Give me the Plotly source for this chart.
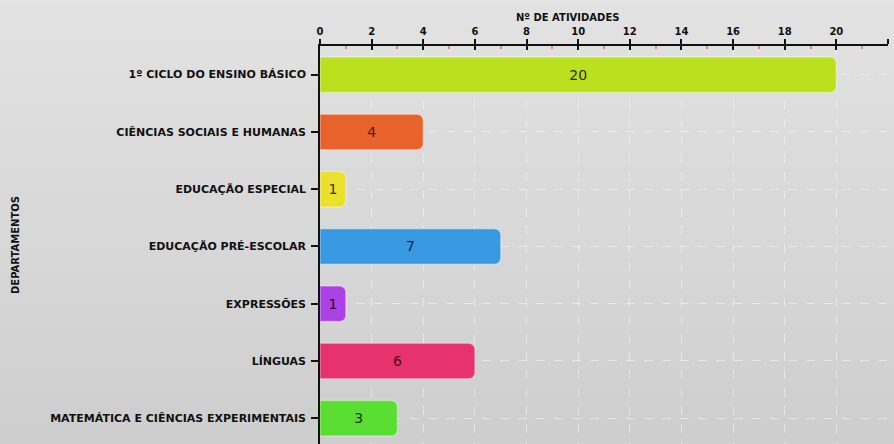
import plotly.graph_objects as go

categories = [
    "1º CICLO DO ENSINO BÁSICO",
    "CIÊNCIAS SOCIAIS E HUMANAS",
    "EDUCAÇÃO ESPECIAL",
    "EDUCAÇÃO PRÉ-ESCOLAR",
    "EXPRESSÕES",
    "LÍNGUAS",
    "MATEMÁTICA E CIÊNCIAS EXPERIMENTAIS",
]
values = [20, 4, 1, 7, 1, 6, 3]
bar_colors = ["#bbe01e", "#e8632c", "#ebe02c", "#3898e2", "#ac42e6", "#e6336f", "#5ade32"]
text_colors = ["#2a3008", "#5a1a0c", "#3a3408", "#0e2a48", "#2a0a40", "#4a0a1c", "#103a08"]
x_ticks = list(range(0, 23, 2))
x_title = "Nº DE ATIVIDADES"
y_title = "DEPARTAMENTOS"

FONT = "DejaVu Sans"

fig = go.Figure()
fig.add_trace(go.Bar(
    y=categories, x=values, orientation="h",
    marker=dict(color=bar_colors, line=dict(color="rgba(255,255,255,0.35)", width=1.5),
                cornerradius=6),
    width=0.62,
    text=[str(v) for v in values],
    textposition="inside", insidetextanchor="middle",
    textfont=dict(family=FONT, size=14, color=text_colors),
    constraintext="none",
    hoverinfo="skip",
))

# background gradient (decoration)
shapes = []
n = 24
top_c = (228, 228, 228)
bot_c = (206, 206, 206)
y0p, y1p = -0.01, 1.2
for i in range(n):
    t = i / (n - 1)
    c = tuple(int(round(top_c[k] + (bot_c[k] - top_c[k]) * t)) for k in range(3))
    ya = y1p - (y1p - y0p) * i / n
    yb = y1p - (y1p - y0p) * (i + 1) / n
    shapes.append(dict(type="rect", xref="paper", yref="paper", x0=-0.6, x1=1.02,
                       y0=yb - 0.002, y1=ya, fillcolor="rgb(%d,%d,%d)" % c,
                       line=dict(width=0), layer="below"))

fig.update_layout(
    width=894, height=444,
    margin=dict(l=320, r=6, t=46, b=0, autoexpand=False),
    paper_bgcolor="#dadada",
    plot_bgcolor="rgba(0,0,0,0)",
    showlegend=False,
    font=dict(family=FONT, size=10, color="#111111"),
    shapes=shapes,
    xaxis=dict(
        side="top", range=[0, 22], tickvals=x_ticks, ticktext=[str(v) for v in x_ticks],
        showline=True, linecolor="#111111", linewidth=1.5,
        ticks="outside", ticklen=5, tickwidth=1.5, tickcolor="#111111",
        tickfont=dict(family=FONT, size=10, color="#111111", weight="bold"),
        showgrid=True, gridcolor="rgba(255,255,255,0.45)", griddash="dash", gridwidth=1,
        zeroline=False,
        minor=dict(tickvals=list(range(1, 23, 2)), ticks="inside", ticklen=3,
                   tickcolor="#e08a8a", tickwidth=1.5, showgrid=False),
    ),
    xaxis2=dict(
        overlaying="x", side="top", range=[0, 22], tickvals=x_ticks,
        showticklabels=False, ticks="inside", ticklen=4, tickwidth=1.5,
        tickcolor="#111111", showgrid=False, showline=False, zeroline=False,
    ),
    yaxis=dict(
        categoryorder="array", categoryarray=categories, range=[6.45, -0.5],
        showline=True, linecolor="#111111", linewidth=1.5,
        ticks="outside", ticklen=7, tickwidth=1.5, tickcolor="#111111",
        tickfont=dict(family=FONT, size=11, color="#111111", weight="bold"),
        ticklabelstandoff=3,
        showgrid=True, gridcolor="rgba(255,255,255,0.45)", griddash="dash", gridwidth=1,
    ),
    annotations=[
        dict(text=x_title, xref="paper", yref="paper", x=0.435, y=1 + 28 / 398,
             showarrow=False, xanchor="center", yanchor="middle",
             font=dict(family=FONT, size=10, color="#111111", weight="bold")),
        dict(text=y_title, xref="paper", yref="paper", x=-0.537, y=0.5,
             textangle=-90, showarrow=False, xanchor="center", yanchor="middle",
             font=dict(family=FONT, size=10, color="#111111", weight="bold")),
    ],
)
# invisible trace to activate xaxis2
fig.add_trace(go.Scatter(x=[0], y=[categories[0]], xaxis="x2", mode="markers",
                         marker=dict(opacity=0), hoverinfo="skip", showlegend=False))

fig.write_html("out.html", config={"displayModeBar": False},
               post_script="document.body.style.margin='0';document.body.style.overflow='hidden';")
